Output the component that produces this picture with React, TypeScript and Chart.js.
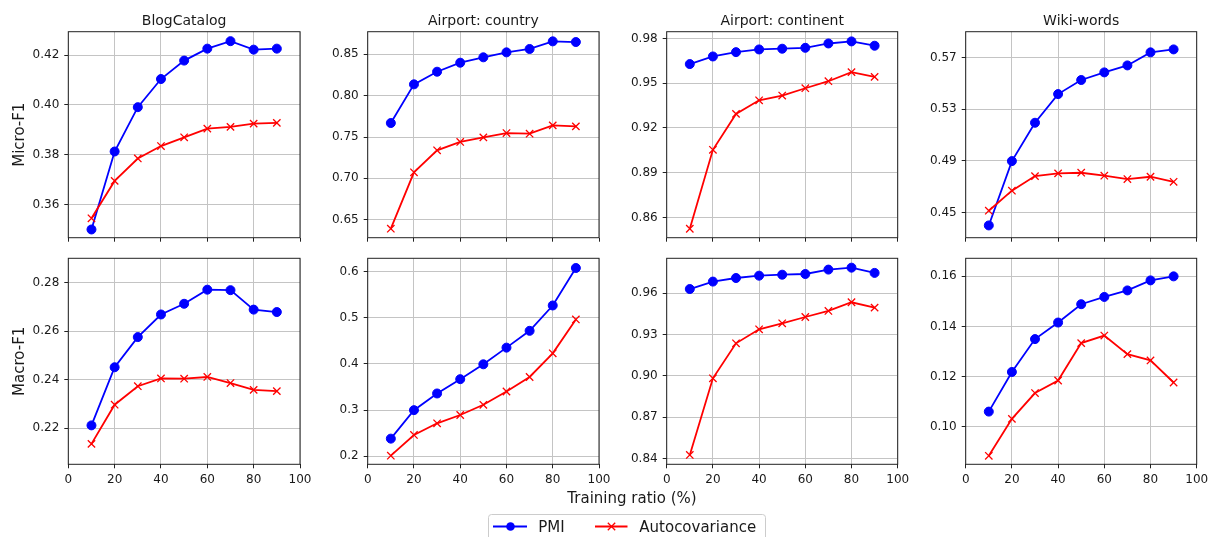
import { useEffect, useRef } from "react";
import { Chart, registerables } from "chart.js";

Chart.register(...registerables);

const FIG_W = 1210;
const FIG_H = 537;
const FONT = '"DejaVu Sans", sans-serif';
const TEXT = "#1a1a1a";
const PMI_COLOR = "#0000ff";
const AUTO_COLOR = "#ff0000";

// Shared x values (training ratio, %) and x tick labels
const trainingRatios = [10, 20, 30, 40, 50, 60, 70, 80, 90];
const xTickLabels = ["0", "20", "40", "60", "80", "100"];

const datasetTitles = ["BlogCatalog", "Airport: country", "Airport: continent", "Wiki-words"];
const metricLabels = ["Micro-F1", "Macro-F1"];
const seriesNames = ["PMI", "Autocovariance"];
const xAxisTitle = "Training ratio (%)";

// Micro-F1 scores
const blogMicroPMI = [0.35, 0.3813, 0.3991, 0.4104, 0.4178, 0.4226, 0.4256, 0.4222, 0.4226];
const blogMicroAuto = [0.3545, 0.3695, 0.3785, 0.3835, 0.387, 0.3905, 0.3912, 0.3925, 0.3928];
const countryMicroPMI = [0.7669, 0.8137, 0.829, 0.8399, 0.8464, 0.8524, 0.8565, 0.8657, 0.8649];
const countryMicroAuto = [0.6391, 0.7073, 0.7339, 0.744, 0.7496, 0.7548, 0.754, 0.7641, 0.7629];
const continentMicroPMI = [0.9628, 0.9679, 0.9708, 0.9726, 0.9731, 0.9737, 0.9766, 0.978, 0.9751];
const continentMicroAuto = [0.8524, 0.9053, 0.9294, 0.9385, 0.9417, 0.9466, 0.9513, 0.9574, 0.9542];
const wikiMicroPMI = [0.4399, 0.4897, 0.5194, 0.5416, 0.5525, 0.5584, 0.5638, 0.5739, 0.5762];
const wikiMicroAuto = [0.4513, 0.4668, 0.4781, 0.4802, 0.4807, 0.4784, 0.4758, 0.4776, 0.4737];

// Macro-F1 scores
const blogMacroPMI = [0.2212, 0.2451, 0.2575, 0.2668, 0.2712, 0.277, 0.2768, 0.2688, 0.2678];
const blogMacroAuto = [0.2136, 0.2297, 0.2373, 0.2405, 0.2404, 0.2411, 0.2386, 0.2358, 0.2353];
const countryMacroPMI = [0.2383, 0.3, 0.3361, 0.3671, 0.3993, 0.4354, 0.4718, 0.5267, 0.6079];
const countryMacroAuto = [0.2014, 0.2462, 0.2715, 0.2895, 0.3116, 0.3404, 0.3718, 0.4231, 0.4964];
const continentMacroPMI = [0.9631, 0.9685, 0.9711, 0.9728, 0.9735, 0.974, 0.9772, 0.9786, 0.9748];
const continentMacroAuto = [0.8427, 0.8983, 0.9237, 0.9339, 0.9382, 0.9428, 0.9472, 0.9535, 0.9496];
const wikiMacroPMI = [0.1061, 0.1219, 0.135, 0.1416, 0.1489, 0.1518, 0.1544, 0.1584, 0.16];
const wikiMacroAuto = [0.0885, 0.1032, 0.1135, 0.1185, 0.1334, 0.1364, 0.129, 0.1265, 0.1177];

// y tick labels per panel
const blogMicroTicks = ["0.36", "0.38", "0.40", "0.42"];
const countryMicroTicks = ["0.65", "0.70", "0.75", "0.80", "0.85"];
const continentMicroTicks = ["0.86", "0.89", "0.92", "0.95", "0.98"];
const wikiMicroTicks = ["0.45", "0.49", "0.53", "0.57"];
const blogMacroTicks = ["0.22", "0.24", "0.26", "0.28"];
const countryMacroTicks = ["0.2", "0.3", "0.4", "0.5", "0.6"];
const continentMacroTicks = ["0.84", "0.87", "0.90", "0.93", "0.96"];
const wikiMacroTicks = ["0.10", "0.12", "0.14", "0.16"];

// y-axis limits per column
const microYMin = [0.3467, 0.6282, 0.8464, 0.4304];
const microYMax = [0.4294, 0.8774, 0.9845, 0.5899];
const macroYMin = [0.2052, 0.1827, 0.8359, 0.0851];
const macroYMax = [0.2899, 0.6289, 0.9854, 0.1672];

// Plot-area geometry of the 2 x 4 grid
const COL_LEFT = [68.3, 367.7, 666.7, 965.7];
const COL_RIGHT = [300, 599, 897.7, 1196.7];
const ROW_TOP = [31.7, 258.3];
const ROW_BOTTOM = [237.7, 464.3];
const Y_AXIS_W = 60;
const X_AXIS_H = 30;

type PanelSpec = {
  row: number;
  col: number;
  title?: string;
  yLabel?: string;
  pmi: number[];
  auto: number[];
  yTicks: string[];
  yMin: number;
  yMax: number;
  figureText: boolean;
};

const microPMI = [blogMicroPMI, countryMicroPMI, continentMicroPMI, wikiMicroPMI];
const microAuto = [blogMicroAuto, countryMicroAuto, continentMicroAuto, wikiMicroAuto];
const macroPMI = [blogMacroPMI, countryMacroPMI, continentMacroPMI, wikiMacroPMI];
const macroAuto = [blogMacroAuto, countryMacroAuto, continentMacroAuto, wikiMacroAuto];
const microTicks = [blogMicroTicks, countryMicroTicks, continentMicroTicks, wikiMicroTicks];
const macroTicks = [blogMacroTicks, countryMacroTicks, continentMacroTicks, wikiMacroTicks];

const panels: PanelSpec[] = [];
for (let row = 0; row < 2; row++) {
  for (let col = 0; col < 4; col++) {
    panels.push({
      row,
      col,
      title: row === 0 ? datasetTitles[col] : undefined,
      yLabel: col === 0 ? metricLabels[row] : undefined,
      pmi: row === 0 ? microPMI[col] : macroPMI[col],
      auto: row === 0 ? microAuto[col] : macroAuto[col],
      yTicks: row === 0 ? microTicks[col] : macroTicks[col],
      yMin: row === 0 ? microYMin[col] : macroYMin[col],
      yMax: row === 0 ? microYMax[col] : macroYMax[col],
      figureText: row === 0 && col === 0,
    });
  }
}

// Frame, panel title and y label for each axes
const framePlugin = {
  id: "frame",
  afterDatasetsDraw(chart: any, _args: any, opts: any) {
    const { ctx, chartArea: a } = chart;
    ctx.save();
    ctx.strokeStyle = "#222";
    ctx.lineWidth = 1;
    ctx.strokeRect(a.left, a.top, a.right - a.left, a.bottom - a.top);
    ctx.fillStyle = TEXT;
    if (opts.title) {
      ctx.font = `14px ${FONT}`;
      ctx.textAlign = "center";
      ctx.textBaseline = "alphabetic";
      ctx.fillText(opts.title, (a.left + a.right) / 2, a.top - 6.7);
    }
    if (opts.yLabel) {
      ctx.font = `15px ${FONT}`;
      ctx.translate(24, (a.top + a.bottom) / 2);
      ctx.rotate(-Math.PI / 2);
      ctx.textAlign = "center";
      ctx.textBaseline = "alphabetic";
      ctx.fillText(opts.yLabel, 0, 0);
    }
    ctx.restore();
  },
};

// Shared x label and the figure legend
const figureTextPlugin = {
  id: "figureText",
  afterDraw(chart: any, _args: any, opts: any) {
    if (!opts.enabled) return;
    const ctx = chart.ctx as CanvasRenderingContext2D;
    ctx.save();
    ctx.fillStyle = TEXT;
    ctx.font = `15px ${FONT}`;
    ctx.textAlign = "center";
    ctx.textBaseline = "alphabetic";
    ctx.fillText(xAxisTitle, 632, 503);

    // legend frame
    const bx = 488.5, by = 514.5, bw = 277, bh = 32, r = 3;
    ctx.beginPath();
    ctx.moveTo(bx + r, by);
    ctx.lineTo(bx + bw - r, by);
    ctx.quadraticCurveTo(bx + bw, by, bx + bw, by + r);
    ctx.lineTo(bx + bw, by + bh);
    ctx.lineTo(bx, by + bh);
    ctx.lineTo(bx, by + r);
    ctx.quadraticCurveTo(bx, by, bx + r, by);
    ctx.closePath();
    ctx.fillStyle = "rgba(255,255,255,0.8)";
    ctx.fill();
    ctx.strokeStyle = "#cccccc";
    ctx.lineWidth = 1;
    ctx.stroke();

    const ly = 526.5;
    // PMI entry
    ctx.strokeStyle = PMI_COLOR;
    ctx.lineWidth = 1.8;
    ctx.beginPath();
    ctx.moveTo(493, ly);
    ctx.lineTo(527, ly);
    ctx.stroke();
    ctx.fillStyle = PMI_COLOR;
    ctx.beginPath();
    ctx.arc(510.5, ly, 4.3, 0, Math.PI * 2);
    ctx.fill();
    // Autocovariance entry
    ctx.strokeStyle = AUTO_COLOR;
    ctx.beginPath();
    ctx.moveTo(595, ly);
    ctx.lineTo(627.5, ly);
    ctx.stroke();
    ctx.lineWidth = 1.3;
    const d = 3.7, mx = 611.5;
    ctx.beginPath();
    ctx.moveTo(mx - d, ly - d);
    ctx.lineTo(mx + d, ly + d);
    ctx.moveTo(mx - d, ly + d);
    ctx.lineTo(mx + d, ly - d);
    ctx.stroke();

    ctx.fillStyle = TEXT;
    ctx.font = `15px ${FONT}`;
    ctx.textAlign = "left";
    ctx.fillText(seriesNames[0], 538.3, 532.3);
    ctx.fillText(seriesNames[1], 639.3, 532.3);
    ctx.restore();
  },
};

function Panel({ spec }: { spec: PanelSpec }) {
  const ref = useRef<HTMLCanvasElement>(null);

  useEffect(() => {
    const canvas = ref.current;
    if (!canvas) return;
    const left = COL_LEFT[spec.col];
    const right = COL_RIGHT[spec.col];
    const top = ROW_TOP[spec.row];
    const bottom = ROW_BOTTOM[spec.row];
    const showXLabels = spec.row === 1;
    const yValues = spec.yTicks.map((t) => parseFloat(t));
    const xValues = xTickLabels.map((t) => parseFloat(t));

    const gridStyle = {
      color: "#c4c4c4",
      lineWidth: 1,
      drawTicks: true,
      tickLength: 4,
      tickColor: "#222",
      tickWidth: 1,
    };

    const chart = new Chart(canvas, {
      type: "line",
      data: {
        datasets: [
          {
            label: seriesNames[0],
            data: trainingRatios.map((x, i) => ({ x, y: spec.pmi[i] })),
            borderColor: PMI_COLOR,
            backgroundColor: PMI_COLOR,
            borderWidth: 1.8,
            pointStyle: "circle",
            pointRadius: 4.5,
            pointBackgroundColor: PMI_COLOR,
            pointBorderColor: PMI_COLOR,
            pointBorderWidth: 1,
            tension: 0,
            clip: false,
            order: 1,
          },
          {
            label: seriesNames[1],
            data: trainingRatios.map((x, i) => ({ x, y: spec.auto[i] })),
            borderColor: AUTO_COLOR,
            backgroundColor: AUTO_COLOR,
            borderWidth: 1.8,
            pointStyle: "crossRot",
            pointRadius: 5.2,
            pointBorderColor: AUTO_COLOR,
            pointBorderWidth: 1.3,
            tension: 0,
            clip: false,
            order: 0,
          },
        ],
      },
      options: {
        responsive: false,
        animation: false,
        devicePixelRatio: 1,
        events: [],
        layout: {
          padding: {
            left: left - Y_AXIS_W,
            right: FIG_W - right,
            top,
            bottom: FIG_H - bottom - X_AXIS_H,
          },
        },
        plugins: {
          legend: { display: false },
          title: { display: false },
          tooltip: { enabled: false },
          frame: { title: spec.title, yLabel: spec.yLabel },
          figureText: { enabled: spec.figureText },
        } as any,
        scales: {
          x: {
            type: "linear",
            min: 0,
            max: 100,
            border: { display: false },
            grid: gridStyle,
            afterBuildTicks: (s: any) => {
              s.ticks = xValues.map((v) => ({ value: v }));
            },
            afterFit: (s: any) => {
              s.height = X_AXIS_H;
              s.paddingLeft = 0;
              s.paddingRight = 0;
            },
            ticks: {
              display: showXLabels,
              autoSkip: false,
              maxRotation: 0,
              padding: 4,
              color: TEXT,
              font: { family: FONT, size: 12 },
              callback: (_v: any, i: number) => xTickLabels[i],
            },
          },
          y: {
            type: "linear",
            min: spec.yMin,
            max: spec.yMax,
            border: { display: false },
            grid: gridStyle,
            afterBuildTicks: (s: any) => {
              s.ticks = yValues.map((v) => ({ value: v }));
            },
            afterFit: (s: any) => {
              s.width = Y_AXIS_W;
              s.paddingTop = 0;
              s.paddingBottom = 0;
            },
            ticks: {
              autoSkip: false,
              padding: 5,
              color: TEXT,
              font: { family: FONT, size: 12 },
              callback: (_v: any, i: number) => spec.yTicks[i],
            },
          },
        },
      } as any,
      plugins: [framePlugin, figureTextPlugin],
    });
    return () => chart.destroy();
  }, [spec]);

  return (
    <canvas
      ref={ref}
      width={FIG_W}
      height={FIG_H}
      style={{ position: "absolute", left: 0, top: 0 }}
    />
  );
}

export default function App() {
  return (
    <div
      style={{
        position: "absolute",
        left: 0,
        top: 0,
        width: FIG_W,
        height: FIG_H,
        background: "#ffffff",
        overflow: "hidden",
      }}
    >
      {panels.map((p, i) => (
        <Panel key={i} spec={p} />
      ))}
    </div>
  );
}
